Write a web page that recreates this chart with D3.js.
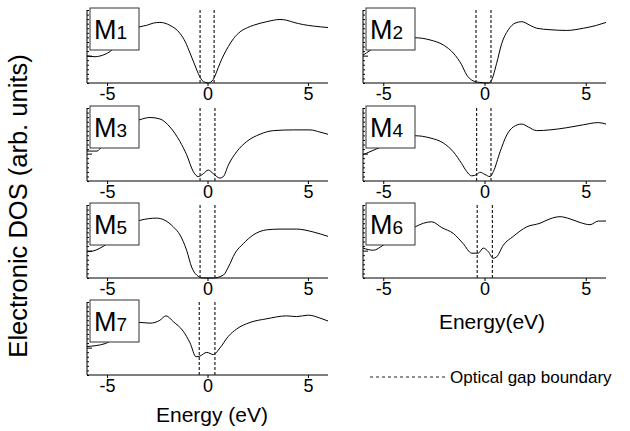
<!DOCTYPE html>
<html>
<head>
<meta charset="utf-8">
<script src="https://cdn.jsdelivr.net/npm/d3@7"></script>
<style>
  html, body { margin: 0; padding: 0; background: #fff; }
  svg { display: block; font-family: "Liberation Sans", Arial, sans-serif; }
</style>
</head>
<body>
<svg id="chart" width="630" height="431"></svg>
<script>
// ---------- data ----------
const panelNames = ["M1", "M2", "M3", "M4", "M5", "M6", "M7"];
const energyTicks = [-5, 0, 5];
const energyDomain = [-6, 6];
const gapLow  = [-0.37, -0.42, -0.37, -0.39, -0.37, -0.36, -0.41];
const gapHigh = [ 0.33,  0.32,  0.37,  0.32,  0.37,  0.39,  0.37];

const dosM1 = [[-6,0.37],[-5.6,0.36],[-5.35,0.37],[-4.86,0.43],[-4.2,0.62],[-3.36,0.77],[-3.03,0.79],[-2.7,0.82],[-2.37,0.83],[-1.87,0.79],[-1.37,0.68],[-1.1,0.56],[-0.87,0.41],[-0.65,0.26],[-0.46,0.13],[-0.21,0.02],[0.04,0],[0.29,0.05],[0.45,0.15],[0.62,0.27],[1.04,0.5],[1.3,0.61],[1.62,0.7],[2.0,0.76],[2.28,0.79],[2.95,0.84],[3.61,0.87],[3.94,0.86],[4.3,0.83],[4.77,0.8],[5.27,0.78],[6.0,0.76]];
const dosM2 = [[-6,0.38],[-5.32,0.5],[-4.4,0.58],[-3.43,0.62],[-2.69,0.59],[-2.03,0.52],[-1.54,0.41],[-1.13,0.25],[-0.88,0.11],[-0.63,0.04],[-0.3,0.01],[0.19,0],[0.35,0.04],[0.6,0.27],[0.85,0.54],[1.18,0.73],[1.51,0.82],[1.84,0.84],[2.25,0.79],[2.58,0.75],[3.23,0.73],[4.06,0.72],[4.88,0.75],[5.54,0.79],[6.0,0.83]];
const dosM3 = [[-6,0.41],[-5.5,0.41],[-5.27,0.47],[-4.4,0.68],[-3.36,0.84],[-2.86,0.87],[-2.37,0.85],[-1.87,0.74],[-1.37,0.54],[-1.04,0.36],[-0.71,0.13],[-0.46,0.06],[-0.21,0.1],[0.04,0.15],[0.29,0.1],[0.62,0.04],[0.79,0.06],[1.04,0.22],[1.45,0.4],[1.95,0.54],[2.61,0.64],[3.28,0.69],[4.27,0.7],[5.1,0.7],[5.6,0.67],[6.0,0.64]];
const dosM4 = [[-6,0.36],[-5.08,0.47],[-4.3,0.56],[-3.43,0.62],[-2.69,0.59],[-2.03,0.52],[-1.54,0.4],[-1.13,0.24],[-0.88,0.13],[-0.63,0.07],[-0.38,0.09],[-0.22,0.12],[0.02,0.09],[0.27,0.06],[0.44,0.13],[0.77,0.4],[1.1,0.63],[1.42,0.74],[1.84,0.78],[2.16,0.74],[2.58,0.69],[3.23,0.7],[4.06,0.73],[4.88,0.77],[5.62,0.8],[6.0,0.78]];
const dosM5 = [[-6,0.36],[-5.7,0.37],[-5.1,0.45],[-4.2,0.66],[-3.36,0.79],[-2.53,0.82],[-2.12,0.79],[-1.7,0.7],[-1.37,0.59],[-1.04,0.38],[-0.79,0.15],[-0.54,0.04],[-0.21,0],[0.29,0],[0.79,0.04],[1.04,0.15],[1.37,0.34],[1.78,0.47],[2.28,0.59],[2.95,0.66],[3.61,0.67],[4.44,0.67],[5.27,0.63],[6.0,0.57]];
const dosM6 = [[-6,0.41],[-5.49,0.38],[-5.0,0.45],[-4.2,0.6],[-3.43,0.7],[-3.02,0.75],[-2.61,0.77],[-2.11,0.69],[-1.54,0.61],[-1.05,0.47],[-0.63,0.34],[-0.31,0.34],[-0.06,0.41],[0.19,0.36],[0.43,0.27],[0.6,0.29],[0.93,0.45],[1.42,0.57],[2.08,0.7],[2.74,0.75],[3.23,0.81],[3.73,0.84],[4.22,0.81],[4.72,0.76],[5.21,0.73],[5.62,0.78],[6.0,0.78]];
const dosM7 = [[-6,0.39],[-5.1,0.43],[-4.2,0.6],[-3.36,0.72],[-2.86,0.71],[-2.37,0.75],[-2.07,0.81],[-1.7,0.73],[-1.21,0.6],[-0.87,0.44],[-0.57,0.25],[-0.37,0.26],[-0.04,0.31],[0.29,0.28],[0.62,0.37],[1.04,0.53],[1.45,0.63],[2.12,0.72],[2.95,0.77],[3.94,0.81],[4.44,0.8],[5.02,0.82],[5.6,0.78],[6.0,0.74]];
const dosSeries = [dosM1, dosM2, dosM3, dosM4, dosM5, dosM6, dosM7];

// ---------- layout ----------
const colX = [[87, 328], [363, 606]];
const rowTop = [10, 108, 205, 302];
const panelH = 73;

const svg = d3.select("#chart");

panelNames.forEach((name, i) => {
  const col = i % 2, row = Math.floor(i / 2);
  const top = rowTop[row], bottom = top + panelH;
  const x = d3.scaleLinear().domain(energyDomain).range(colX[col]);
  const y = d3.scaleLinear().domain([0, 1]).range([bottom, top]);
  const g = svg.append("g");

  // x axis
  const xAxis = d3.axisBottom(x).tickValues(energyTicks).tickSize(3).tickPadding(1)
      .tickFormat(d => d < 0 ? "-" + Math.abs(d) : d);
  const gx = g.append("g").attr("transform", `translate(0,${bottom})`).call(xAxis);
  gx.select(".domain").attr("d", `M${colX[col][0]},0H${colX[col][1]}`).attr("stroke", "#000");
  gx.selectAll(".tick line").attr("stroke", "#000");
  gx.selectAll("text").attr("font-size", 18).attr("fill", "#000")
    .attr("font-family", "'Liberation Sans', Arial, sans-serif");

  // y axis with inward minor ticks
  const yt = d3.scaleLinear().domain([0, 16]).range([bottom, top]);
  const yAxis = d3.axisRight(yt).tickValues(d3.range(0, 17)).tickSize(2).tickFormat("");
  const gy = g.append("g").attr("transform", `translate(${colX[col][0]},0)`).call(yAxis);
  gy.select(".domain").attr("d", `M0,${bottom}V${top}`).attr("stroke", "#000");
  gy.selectAll(".tick line").attr("stroke", "#000").attr("x2", d => d === 6 ? 5 : 2);

  // DOS curve
  const line = d3.line().x(d => x(d[0])).y(d => y(d[1])).curve(d3.curveMonotoneX);
  g.append("path").datum(dosSeries[i]).attr("d", line)
    .attr("fill", "none").attr("stroke", "#000").attr("stroke-width", 1);

  // optical gap boundaries
  [gapLow[i], gapHigh[i]].forEach(e => {
    g.append("line").attr("x1", x(e)).attr("x2", x(e)).attr("y1", top).attr("y2", bottom)
      .attr("stroke", "#222").attr("stroke-width", 1.2).attr("stroke-dasharray", "3,2");
  });

  // label box
  const bx = colX[col][0] + 3, by = top - 2;
  g.append("rect").attr("x", bx).attr("y", by).attr("width", 49).attr("height", 42)
    .attr("fill", "#fff").attr("stroke", "#333").attr("stroke-width", 1);
  const t = g.append("text").attr("x", bx + 4).attr("y", by + 31).attr("fill", "#000");
  t.append("tspan").attr("font-size", 27).text(name[0]);
  t.append("tspan").attr("font-size", 19).text(name.slice(1));
});

// axis titles
svg.append("text").attr("transform", "translate(27,206) rotate(-90)")
  .attr("text-anchor", "middle").attr("font-size", 25.5).text("Electronic DOS (arb. units)");
svg.append("text").attr("x", 212).attr("y", 422).attr("text-anchor", "middle")
  .attr("font-size", 21).text("Energy (eV)");
svg.append("text").attr("x", 492).attr("y", 329).attr("text-anchor", "middle")
  .attr("font-size", 21).text("Energy(eV)");

// legend
svg.append("line").attr("x1", 370).attr("x2", 448).attr("y1", 377).attr("y2", 377)
  .attr("stroke", "#222").attr("stroke-width", 1).attr("stroke-dasharray", "3,3");
svg.append("text").attr("x", 450).attr("y", 383).attr("font-size", 17).text("Optical gap boundary");
</script>
</body>
</html>
